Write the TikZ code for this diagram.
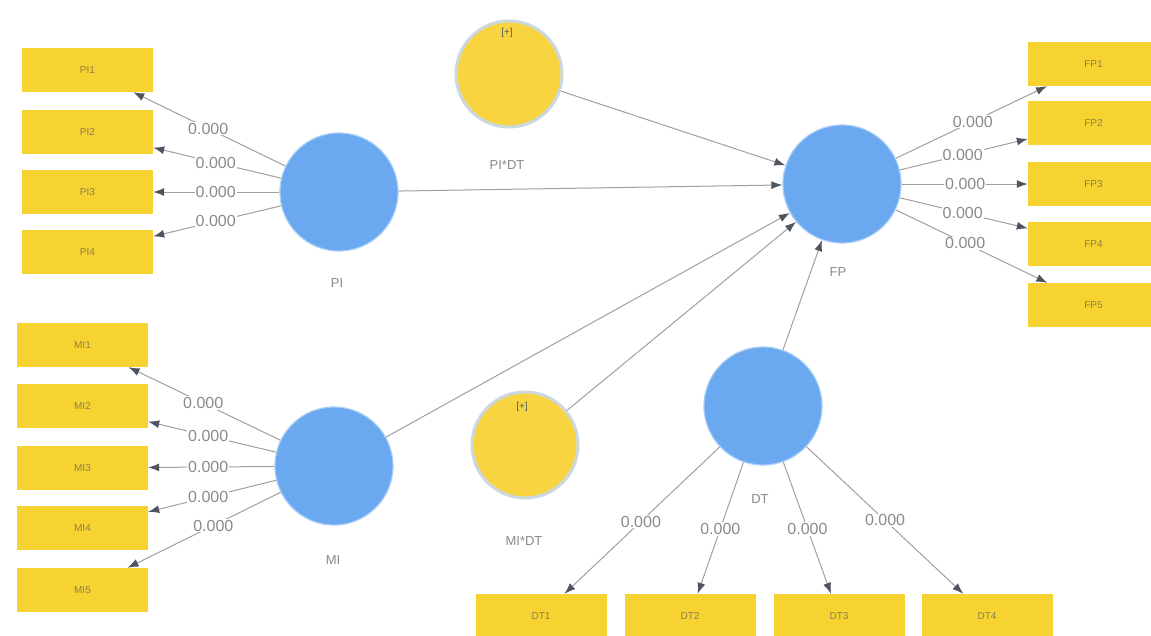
\documentclass[tikz,border=0pt]{standalone}
\usepackage{fontspec}
\setmainfont{Liberation Sans}
\usetikzlibrary{arrows.meta,calc}
\definecolor{boxyellow}{HTML}{F7D332}
\definecolor{latblue}{HTML}{6AA8F0}
\definecolor{latedge}{HTML}{A9CEF7}
\definecolor{modyellow}{HTML}{F8D540}
\definecolor{modedge}{HTML}{CBD8DF}
\definecolor{edgegray}{HTML}{A0A0A0}
\definecolor{tipgray}{HTML}{4E5561}
\definecolor{labgray}{HTML}{8A8A8A}
\definecolor{boxtext}{HTML}{8C7F4A}
\begin{document}
\begin{tikzpicture}[x=1pt,y=-1pt,
  indbox/.style={rectangle, fill=boxyellow, minimum width=131pt, minimum height=44pt, inner sep=0pt, text=boxtext, font=\fontsize{10}{12}\selectfont},
  latent/.style={circle, fill=latblue, draw=latedge, line width=1.2pt, minimum size=118pt, inner sep=0pt},
  moder/.style={circle, fill=modyellow, draw=modedge, line width=3pt, minimum size=106pt, inner sep=0pt},
  conn/.style={draw=edgegray, line width=1pt, -{Latex[length=11pt,width=8pt,color=tipgray]}},
  wlab/.style={fill=white, inner sep=1pt, text=labgray, font=\fontsize{16}{18}\selectfont},
  clab/.style={text=labgray, font=\fontsize{13}{15}\selectfont},
  plus/.style={text=black!65, font=\fontsize{10}{12}\selectfont}
]
\useasboundingbox[fill=white] (0,0) rectangle (1151,635);

% indicator boxes
\node[indbox] (PI1) at (87.5,70) {PI1};
\node[indbox] (PI2) at (87.5,132) {PI2};
\node[indbox] (PI3) at (87.5,192) {PI3};
\node[indbox] (PI4) at (87.5,252) {PI4};
\node[indbox] (MI1) at (82.5,345) {MI1};
\node[indbox] (MI2) at (82.5,406) {MI2};
\node[indbox] (MI3) at (82.5,468) {MI3};
\node[indbox] (MI4) at (82.5,528) {MI4};
\node[indbox] (MI5) at (82.5,590) {MI5};
\node[indbox] (FP1) at (1093.5,64) {FP1};
\node[indbox] (FP2) at (1093.5,123) {FP2};
\node[indbox] (FP3) at (1093.5,184) {FP3};
\node[indbox] (FP4) at (1093.5,244) {FP4};
\node[indbox] (FP5) at (1093.5,305) {FP5};
\node[indbox] (DT1) at (541,616) {DT1};
\node[indbox] (DT2) at (690,616) {DT2};
\node[indbox] (DT3) at (839,616) {DT3};
\node[indbox] (DT4) at (987,616) {DT4};

% latent variables
\node[latent] (PI) at (339,192) {};
\node[latent] (MI) at (334,466) {};
\node[latent] (FP) at (842,184) {};
\node[latent] (DT) at (763,406) {};
\node[moder] (PIDT) at (509,74) {};
\node[moder] (MIDT) at (525,445) {};

\node[plus] (PIDTp) at (507,33) {[+]};
\node[plus] (MIDTp) at (522,407) {[+]};

\node[clab] (PIl) at (337,283) {PI};
\node[clab] (MIl) at (333,560) {MI};
\node[clab] (FPl) at (838,272) {FP};
\node[clab] (DTl) at (760,499) {DT};
\node[clab] (PIDTl) at (507,165) {PI*DT};
\node[clab] (MIDTl) at (524,541) {MI*DT};

% structural paths
\draw[conn] (PI) -- (FP);
\draw[conn] (PIDT) -- (FP);
\draw[conn] (MI) -- (FP);
\draw[conn] (MIDT) -- (FP);
\draw[conn] (DT) -- (FP);

% measurement paths
\foreach \i in {1,2,3,4} {\draw[conn] (PI) -- (PI\i);}
\foreach \i in {1,2,3,4,5} {\draw[conn] (MI) -- (MI\i);}
\foreach \i in {1,2,3,4,5} {\draw[conn] (FP) -- (FP\i);}
\foreach \i in {1,2,3,4} {\draw[conn] (DT) -- (DT\i);}

% loadings
\node[wlab] (lPI1) at ($(PI)!0.52!(PI1)$) {0.000};
\node[wlab] (lPI2) at ($(PI)!0.49!(PI2)$) {0.000};
\node[wlab] (lPI3) at ($(PI)!0.49!(PI3)$) {0.000};
\node[wlab] (lPI4) at ($(PI)!0.49!(PI4)$) {0.000};
\node[wlab] (lMI1) at ($(MI)!0.52!(MI1)$) {0.000};
\node[wlab] (lMI2) at ($(MI)!0.50!(MI2)$) {0.000};
\node[wlab] (lMI3) at ($(MI)!0.50!(MI3)$) {0.000};
\node[wlab] (lMI4) at ($(MI)!0.50!(MI4)$) {0.000};
\node[wlab] (lMI5) at ($(MI)!0.48!(MI5)$) {0.000};
\node[wlab] (lFP1) at ($(FP)!0.52!(FP1)$) {0.000};
\node[wlab] (lFP2) at ($(FP)!0.48!(FP2)$) {0.000};
\node[wlab] (lFP3) at ($(FP)!0.49!(FP3)$) {0.000};
\node[wlab] (lFP4) at ($(FP)!0.48!(FP4)$) {0.000};
\node[wlab] (lFP5) at ($(FP)!0.49!(FP5)$) {0.000};
\node[wlab] (lDT1) at ($(DT)!0.55!(DT1)$) {0.000};
\node[wlab] (lDT2) at ($(DT)!0.585!(DT2)$) {0.000};
\node[wlab] (lDT3) at ($(DT)!0.585!(DT3)$) {0.000};
\node[wlab] (lDT4) at ($(DT)!0.545!(DT4)$) {0.000};
\end{tikzpicture}
\end{document}
